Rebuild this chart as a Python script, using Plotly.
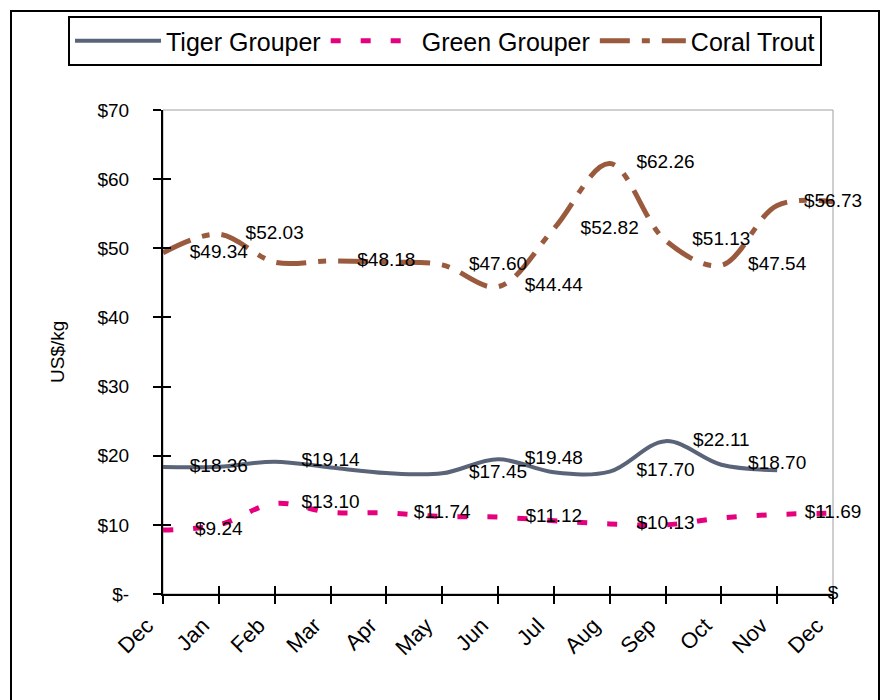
import plotly.graph_objects as go

# ---- data ----
month_labels = ["Dec", "Jan", "Feb", "Mar", "Apr", "May", "Jun", "Jul", "Aug", "Sep", "Oct", "Nov", "Dec"]
x_pos = list(range(len(month_labels)))

tiger_values = [18.36, 18.40, 19.14, 18.30, 17.50, 17.45, 19.48, 17.60, 17.70, 22.11, 18.70, 17.90]
green_values = [9.24, 10.00, 13.10, 11.80, 11.74, 11.20, 11.12, 10.60, 10.13, 10.00, 11.00, 11.50, 11.69]
coral_values = [49.34, 52.03, 48.00, 48.18, 48.00, 47.60, 44.44, 52.82, 62.26, 51.13, 47.54, 56.20, 56.73]

# data labels (as shown on the chart)
tiger_label_x = [1, 3, 6, 7, 9, 10, 11]
tiger_label_v = [18.36, 19.14, 17.45, 19.48, 17.70, 22.11, 18.70]
green_label_x = [1, 3, 5, 7, 9, 12]
green_label_v = [9.24, 13.10, 11.74, 11.12, 10.13, 11.69]
coral_label_x = [1, 2, 4, 6, 7, 8, 9, 10, 11, 12]
coral_label_v = [49.34, 52.03, 48.18, 47.60, 44.44, 52.82, 62.26, 51.13, 47.54, 56.73]
zero_label_x = [12]
zero_label_v = [0]

y_tickvals = [0, 10, 20, 30, 40, 50, 60, 70]
y_ticktext = ["$-", "$10", "$20", "$30", "$40", "$50", "$60", "$70"]

FONT = "Liberation Sans, Arial, sans-serif"
TIGER = "#5a6478"
GREEN = "#e6007e"
CORAL = "#9a5a3e"

W, H = 884, 700
L, R, T, B = 163, 51, 110, 106
PW, PH = W - L - R, H - T - B


def px_to_paper_x(px):
    return (px - L) / PW


def px_to_paper_y(py):
    return (H - B - py) / PH


fig = go.Figure()

fig.add_trace(go.Scatter(x=x_pos[:len(tiger_values)], y=tiger_values, mode="lines", name="Tiger Grouper",
                         line=dict(color=TIGER, width=4, shape="spline")))
fig.add_trace(go.Scatter(x=x_pos, y=green_values, mode="lines", name="Green Grouper",
                         line=dict(color=GREEN, width=5, shape="spline", dash="10px,20px")))
fig.add_trace(go.Scatter(x=x_pos, y=coral_values, mode="lines", name="Coral Trout",
                         line=dict(color=CORAL, width=5, shape="spline", dash="30px,12px,8px,12px")))


def fmt(v):
    return "$-" if v == 0 else f"${v:.2f}"


for lx, lv in [(coral_label_x, coral_label_v), (tiger_label_x, tiger_label_v), (green_label_x, green_label_v)]:
    fig.add_trace(go.Scatter(x=lx, y=lv, mode="text", text=[fmt(v) for v in lv],
                             textposition="middle center", showlegend=False, hoverinfo="skip",
                             cliponaxis=False, textfont=dict(family=FONT, size=19, color="black")))
fig.add_trace(go.Scatter(x=zero_label_x, y=zero_label_v, mode="text", text=["$" for _ in zero_label_v],
                         textposition="middle center", showlegend=False, hoverinfo="skip",
                         cliponaxis=False, textfont=dict(family=FONT, size=19, color="black")))

axis_common = dict(showgrid=False, zeroline=False, automargin=False)

fig.update_layout(
    width=W, height=H,
    margin=dict(l=L, r=R, t=T, b=B, pad=0, autoexpand=False),
    paper_bgcolor="white", plot_bgcolor="white",
    font=dict(family=FONT, size=18, color="black"),
    xaxis=dict(range=[0, 12], tickmode="array", tickvals=x_pos, ticktext=month_labels,
               tickangle=-45, ticks="outside", ticklen=8, tickwidth=2, tickcolor="black",
               showline=True, linecolor="black", linewidth=2, ticklabelstandoff=0,
               ticklabelshift=-16,
               tickfont=dict(family=FONT, size=22, color="black"), **axis_common),
    yaxis=dict(range=[0, 70], tickmode="array", tickvals=y_tickvals, ticktext=y_ticktext,
               ticks="outside", ticklen=8, tickwidth=2, tickcolor="black",
               showline=True, linecolor="black", linewidth=2, ticklabelstandoff=20,
               tickfont=dict(family=FONT, size=19, color="black"), **axis_common),
    xaxis2=dict(range=[0, 12], overlaying="x", anchor="y", side="bottom", tickmode="array",
                tickvals=x_pos, ticks="inside", ticklen=8, tickwidth=2, tickcolor="black",
                showticklabels=False, showline=False, **axis_common),
    yaxis2=dict(range=[0, 70], overlaying="y", anchor="x", side="left", tickmode="array",
                tickvals=y_tickvals, ticks="inside", ticklen=8, tickwidth=2, tickcolor="black",
                showticklabels=False, showline=False, **axis_common),
    legend=dict(orientation="h", xref="paper", yref="paper",
                x=px_to_paper_x(68), xanchor="left", y=px_to_paper_y(16), yanchor="top",
                bordercolor="black", borderwidth=2, bgcolor="white",
                font=dict(family=FONT, size=25, color="black"),
                itemwidth=86, tracegroupgap=0),
    showlegend=True,
    shapes=[
        dict(type="rect", xref="paper", yref="paper", x0=0, x1=1, y0=0, y1=1,
             line=dict(color="#a0a0a0", width=1), layer="below"),
        dict(type="rect", xref="paper", yref="paper",
             x0=px_to_paper_x(11), x1=px_to_paper_x(879), y0=px_to_paper_y(11), y1=px_to_paper_y(720),
             line=dict(color="black", width=2), layer="below"),
    ],
    annotations=[
        dict(text="US$/kg", xref="paper", yref="paper", x=px_to_paper_x(57), y=0.5,
             textangle=-90, showarrow=False, xanchor="center", yanchor="middle",
             font=dict(family=FONT, size=19, color="black")),
    ],
)

# invisible trace that activates the overlay axes (cross-style ticks)
fig.add_trace(go.Scatter(x=[0], y=[0], xaxis="x2", yaxis="y2", mode="markers",
                         marker=dict(opacity=0), showlegend=False, hoverinfo="skip"))

fig.write_html("out.html", config={"displayModeBar": False},
               post_script="document.body.style.margin='0';document.body.style.overflow='hidden';")
